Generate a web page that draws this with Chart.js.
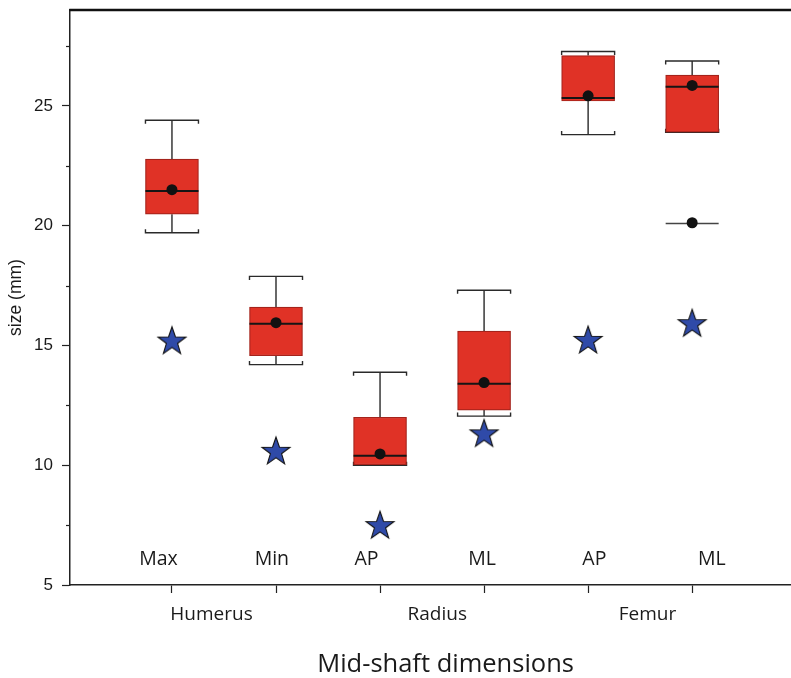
<!DOCTYPE html>
<html><head><meta charset="utf-8">
<script src="https://cdn.jsdelivr.net/npm/chart.js@4"></script>
<style>html,body{margin:0;padding:0;background:#fff}#wrap{width:791px;height:678px}</style>
</head><body><div id="wrap"><canvas id="c" width="791" height="678"></canvas></div>
<script>
// ---- data ----
const dimensions = ['Max', 'Min', 'AP', 'ML', 'AP', 'ML'];
const bones = ['Humerus', 'Radius', 'Femur'];
const positions = [1, 2, 3, 4, 5, 6];
const whiskerLow  = [19.7, 14.2, 10.0, 12.05, 23.8, 23.9];
const q1          = [20.48, 14.57, 10.02, 12.3, 25.2, 23.9];
const median      = [21.45, 15.9, 10.4, 13.4, 25.33, 25.8];
const q3          = [22.78, 16.6, 12.0, 15.6, 27.1, 26.28];
const whiskerHigh = [24.4, 17.88, 13.88, 17.3, 27.27, 26.87];
const mean        = [21.5, 15.95, 10.47, 13.45, 25.42, 25.85];
const outlierPos  = [6];
const outlierVal  = [20.12];
const comparison  = [15.2, 10.6, 7.5, 11.33, 15.23, 15.93];
const yTicks = [5, 10, 15, 20, 25];
const yMinorTicks = [7.5, 12.5, 17.5, 22.5, 27.5];

// ---- star marker ----
function makeStar() {
  const c = document.createElement('canvas');
  c.width = 34; c.height = 34;
  const g = c.getContext('2d');
  const R = 14.7, r = R * 0.4, cx = 17, cy = 18;
  g.beginPath();
  for (let i = 0; i < 10; i++) {
    const rad = i % 2 === 0 ? R : r;
    const a = -Math.PI / 2 + i * Math.PI / 5;
    const px = cx + rad * Math.cos(a), py = cy + rad * Math.sin(a);
    if (i === 0) g.moveTo(px, py); else g.lineTo(px, py);
  }
  g.closePath();
  g.fillStyle = '#2f4aa8';
  g.fill();
  g.lineWidth = 1.1;
  g.strokeStyle = '#111';
  g.stroke();
  return c;
}
const starImg = makeStar();

const BOX_PX = 53;
const TXT = '#1a1a1a';

const extras = {
  id: 'extras',
  beforeDatasetsDraw(chart) {
    const { ctx, scales: { x, y } } = chart;
    ctx.save();
    ctx.strokeStyle = '#2a2a2a';
    ctx.lineWidth = 1.4;
    const hook = 3.5;
    positions.forEach((p, i) => {
      const cx = x.getPixelForValue(p);
      const hw = BOX_PX / 2;
      const yh = y.getPixelForValue(whiskerHigh[i]);
      const yl = y.getPixelForValue(whiskerLow[i]);
      const y3 = y.getPixelForValue(q3[i]);
      const y1 = y.getPixelForValue(q1[i]);
      ctx.beginPath();
      ctx.moveTo(cx, y3); ctx.lineTo(cx, yh);
      ctx.moveTo(cx, y1); ctx.lineTo(cx, yl);
      ctx.stroke();
      ctx.beginPath();
      ctx.moveTo(cx - hw, yh + hook); ctx.lineTo(cx - hw, yh); ctx.lineTo(cx + hw, yh); ctx.lineTo(cx + hw, yh + hook);
      ctx.stroke();
      ctx.beginPath();
      ctx.moveTo(cx - hw, yl - hook); ctx.lineTo(cx - hw, yl); ctx.lineTo(cx + hw, yl); ctx.lineTo(cx + hw, yl - hook);
      ctx.stroke();
    });
    ctx.restore();
  },
  afterDraw(chart) {
    const { ctx, chartArea: a, scales: { x, y } } = chart;
    ctx.save();
    ctx.strokeStyle = '#111';
    ctx.lineWidth = 2.5;
    ctx.beginPath();
    ctx.moveTo(a.left - 0.7, a.top); ctx.lineTo(a.right, a.top);
    ctx.stroke();
    ctx.lineWidth = 1.2;
    ctx.strokeStyle = '#222';
    yMinorTicks.forEach(v => {
      const py = Math.round(y.getPixelForValue(v)) + 0.5;
      ctx.beginPath(); ctx.moveTo(a.left - 4, py); ctx.lineTo(a.left, py); ctx.stroke();
    });
    ctx.fillStyle = TXT;
    ctx.textAlign = 'center';
    ctx.textBaseline = 'middle';
    ctx.font = '19.5px "Open Sans"';
    const dimX = [0.87, 1.96, 2.87, 3.98, 5.06, 6.19];
    dimensions.forEach((t, i) => {
      ctx.fillText(t, x.getPixelForValue(dimX[i]), y.getPixelForValue(6.05));
    });
    ctx.font = '19px "Open Sans"';
    const boneX = [1.38, 3.55, 5.57];
    bones.forEach((t, i) => {
      ctx.fillText(t, x.getPixelForValue(boneX[i]), a.bottom + 30);
    });
    ctx.font = '25.5px "Open Sans"';
    ctx.fillText('Mid-shaft dimensions', x.getPixelForValue(3.63), a.bottom + 80);
    ctx.restore();
  }
};

new Chart(document.getElementById('c'), {
  type: 'bar',
  data: {
    datasets: [
      {
        type: 'bar',
        data: positions.map((p, i) => ({ x: p, y: [q1[i], q3[i]] })),
        backgroundColor: '#e03226',
        borderColor: '#a5231b',
        borderWidth: 1.2,
        borderSkipped: false,
        barThickness: BOX_PX,
        order: 5
      },
      {
        type: 'scatter',
        data: positions.map((p, i) => ({ x: p, y: median[i] })),
        pointStyle: 'line',
        pointRadius: BOX_PX / 2,
        borderColor: '#151515',
        borderWidth: 2,
        order: 4
      },
      {
        type: 'scatter',
        data: outlierPos.map((p, i) => ({ x: p, y: outlierVal[i] - 0.03 })),
        pointStyle: 'line',
        pointRadius: BOX_PX / 2,
        borderColor: '#444',
        borderWidth: 1.5,
        order: 3
      },
      {
        type: 'scatter',
        data: positions.map((p, i) => ({ x: p, y: mean[i] })).concat(outlierPos.map((p, i) => ({ x: p, y: outlierVal[i] }))),
        pointStyle: 'circle',
        pointRadius: 5.5,
        backgroundColor: '#111',
        borderWidth: 0,
        order: 2
      },
      {
        type: 'scatter',
        data: positions.map((p, i) => ({ x: p, y: comparison[i] })),
        pointStyle: starImg,
        order: 1
      }
    ]
  },
  options: {
    responsive: false,
    animation: false,
    devicePixelRatio: 1,
    events: [],
    layout: { autoPadding: false, padding: { top: 10, left: 0, right: 0, bottom: 0 } },
    plugins: { legend: { display: false }, tooltip: { enabled: false } },
    scales: {
      x: {
        type: 'linear',
        min: 0.02,
        max: 6.95,
        offset: false,
        afterBuildTicks: s => { s.ticks = positions.map(v => ({ value: v })); },
        afterFit: s => { s.height = 93; s.paddingLeft = 0; s.paddingRight = 0; },
        ticks: { display: false },
        grid: { drawOnChartArea: false, offset: false, tickLength: 8, tickColor: '#222', tickWidth: 1.2 },
        border: { color: '#222', width: 1.5 }
      },
      y: {
        type: 'linear',
        min: 5,
        max: 29,
        afterBuildTicks: s => { s.ticks = yTicks.map(v => ({ value: v })); },
        afterFit: s => { s.width = 70; s.paddingTop = 0; s.paddingBottom = 0; },
        ticks: { font: { family: '"Liberation Sans", Arial, sans-serif', size: 17 }, color: TXT, padding: 9 },
        grid: { drawOnChartArea: false, tickLength: 8, tickColor: '#222', tickWidth: 1.2 },
        border: { color: '#222', width: 1.5 },
        title: {
          display: true,
          text: 'size (mm)',
          font: { family: '"Liberation Sans", Arial, sans-serif', size: 17.5 },
          color: TXT,
          padding: { top: 6, bottom: 0 }
        }
      }
    }
  },
  plugins: [extras]
});
</script>
</body></html>
